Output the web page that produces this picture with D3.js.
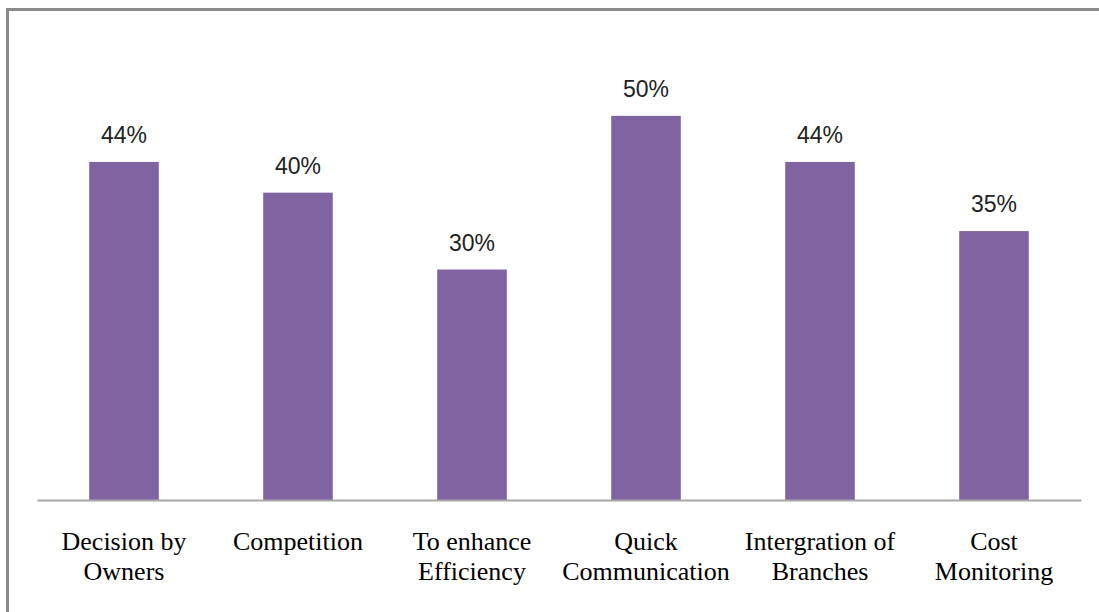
<!DOCTYPE html>
<html>
<head>
<meta charset="utf-8">
<script src="https://cdn.jsdelivr.net/npm/d3@7"></script>
<style>
  html, body { margin: 0; padding: 0; background: #fff; }
  svg { display: block; }
</style>
</head>
<body>
<script>
// Reasons for adoption, share of respondents
const categories = [
  ["Decision by", "Owners"],
  ["Competition"],
  ["To enhance", "Efficiency"],
  ["Quick", "Communication"],
  ["Intergration of", "Branches"],
  ["Cost", "Monitoring"]
];
const values = [0.44, 0.40, 0.30, 0.50, 0.44, 0.35];
const valueLabels = ["44%", "40%", "30%", "50%", "44%", "35%"];

const W = 1099, H = 612;
const svg = d3.select("body").append("svg")
  .attr("width", W).attr("height", H);

// chart area frame (runs past the right and bottom edges)
svg.append("rect")
  .attr("x", 7.5).attr("y", 9.5)
  .attr("width", W + 20).attr("height", H + 20)
  .attr("fill", "#fff")
  .attr("stroke", "#8a8a8a")
  .attr("stroke-width", 3);

const plot = { left: 37, right: 1081, top: 39, bottom: 500 };

const x = d3.scaleBand()
  .domain(d3.range(categories.length))
  .range([plot.left, plot.right])
  .paddingInner(0.6)
  .paddingOuter(0.3);

const y = d3.scaleLinear()
  .domain([0, 0.6])
  .range([plot.bottom, plot.top]);

// bars
svg.append("g").selectAll("rect")
  .data(values)
  .join("rect")
  .attr("x", (d, i) => x(i))
  .attr("y", d => y(d))
  .attr("width", x.bandwidth())
  .attr("height", d => y(0) - y(d))
  .attr("fill", "#8064A2");

// value labels
svg.append("g").selectAll("text")
  .data(values)
  .join("text")
  .attr("x", (d, i) => x(i) + x.bandwidth() / 2)
  .attr("y", d => y(d) - 19)
  .attr("text-anchor", "middle")
  .attr("font-family", "'Liberation Sans', Arial, sans-serif")
  .attr("font-size", 23)
  .attr("fill", "#222")
  .text((d, i) => valueLabels[i]);

// category axis
const xAxis = d3.axisBottom(x).tickSize(0).tickFormat("");
const axisG = svg.append("g")
  .attr("transform", `translate(0,${plot.bottom})`)
  .call(xAxis);
axisG.select(".domain")
  .attr("stroke", "#a6a6a6")
  .attr("stroke-width", 2);

const labels = svg.append("g").selectAll("text")
  .data(categories)
  .join("text")
  .attr("x", (d, i) => x(i) + x.bandwidth() / 2)
  .attr("y", 550)
  .attr("text-anchor", "middle")
  .attr("font-family", "'Liberation Serif', 'Times New Roman', serif")
  .attr("font-size", 26)
  .attr("fill", "#000");

labels.selectAll("tspan")
  .data(d => d)
  .join("tspan")
  .attr("x", function () { return d3.select(this.parentNode).attr("x"); })
  .attr("dy", (d, i) => i === 0 ? 0 : 30)
  .text(d => d);
</script>
</body>
</html>
